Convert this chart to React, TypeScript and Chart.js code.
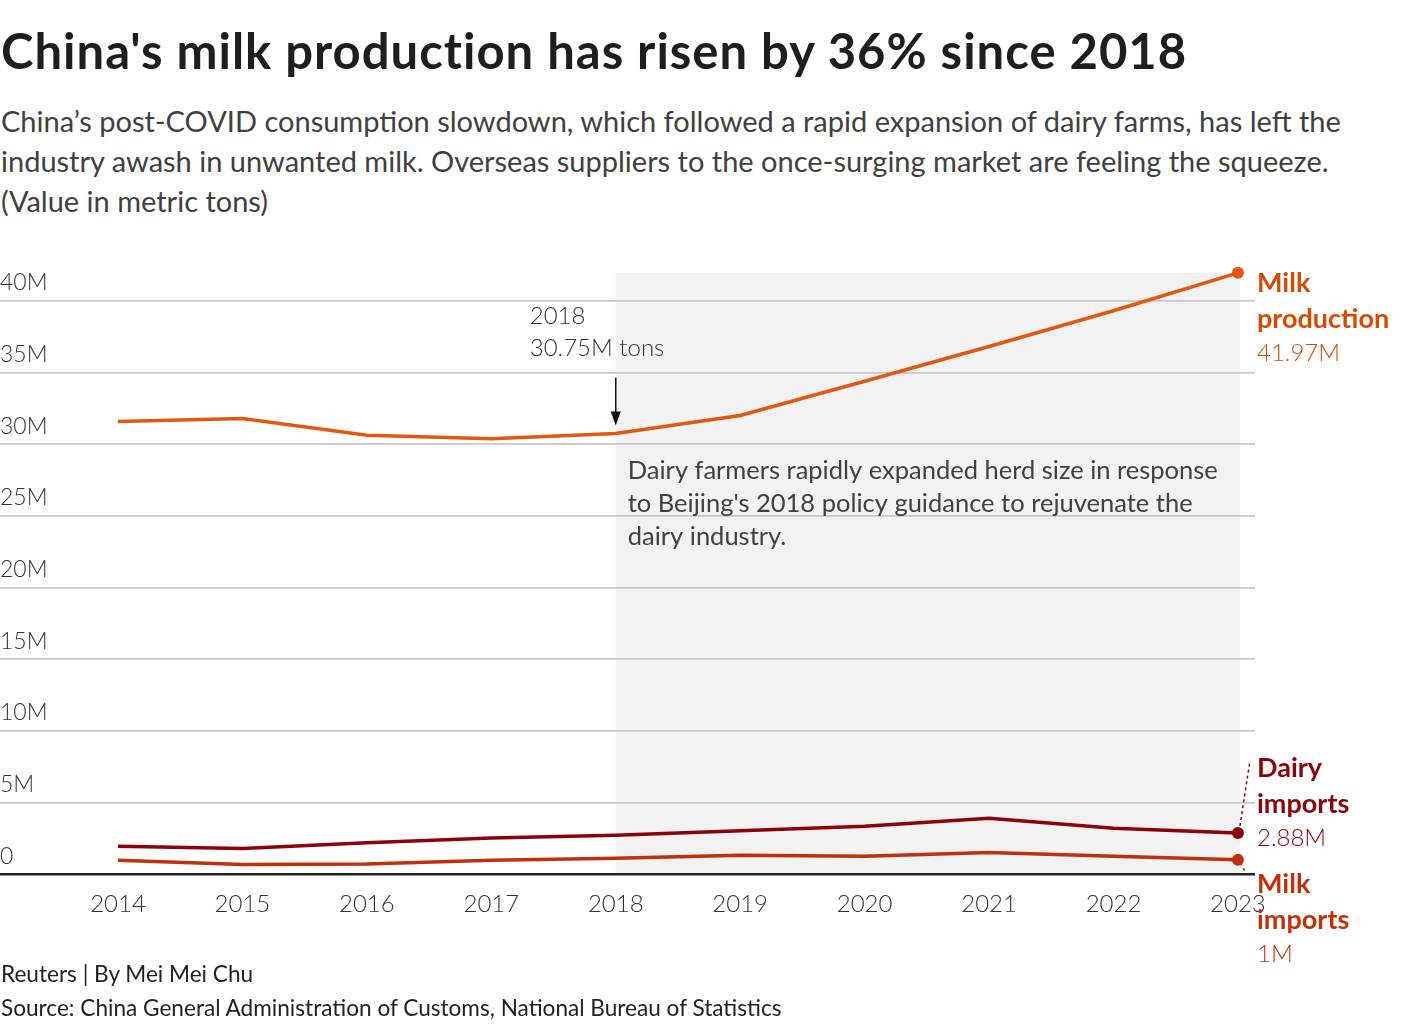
import React, { useEffect, useRef } from 'react';
import { Chart, registerables } from 'chart.js';

Chart.register(...registerables);

// ---- data (millions of metric tons) ----
const YEARS = [2014, 2015, 2016, 2017, 2018, 2019, 2020, 2021, 2022, 2023];
const MILK_PRODUCTION = [31.59, 31.8, 30.64, 30.39, 30.75, 32.01, 34.4, 36.83, 39.32, 41.97];
const DAIRY_IMPORTS = [1.95, 1.8, 2.2, 2.52, 2.72, 3.03, 3.35, 3.9, 3.2, 2.88];
const MILK_IMPORTS = [0.98, 0.68, 0.72, 0.98, 1.12, 1.32, 1.26, 1.52, 1.26, 1.0];
const Y_TICKS = [0, 5, 10, 15, 20, 25, 30, 35, 40];
const Y_TICK_LABELS = ['0', '5M', '10M', '15M', '20M', '25M', '30M', '35M', '40M'];
const SERIES_NAMES = [['Milk', 'production'], ['Dairy', 'imports'], ['Milk', 'imports']];
const SHADE_START = 2018;
const SHADE_END = 2023;
const HIGHLIGHT_YEAR = 2018;
const SHADE_NOTE = [
  'Dairy farmers rapidly expanded herd size in response',
  "to Beijing's 2018 policy guidance to rejuvenate the",
  'dairy industry.',
];

const FONT = 'Lato, "Source Sans Pro", "Noto Sans", sans-serif';
const C_PROD = '#e4570e';
const C_PROD_TXT = '#d84a04';
const C_DAIRY = '#8c0309';
const C_MILKIMP = '#c0300a';

const fmtM = (v: number) => `${Number(v.toFixed(2))}M`;

const overlayPlugin = {
  id: 'overlay',
  beforeDraw(chart: any) {
    const { ctx, scales } = chart;
    const x = scales.x, y = scales.y;
    const x0 = x.getPixelForValue(SHADE_START);
    const x1 = x.getPixelForValue(SHADE_END) + 2;
    const top = y.getPixelForValue(MILK_PRODUCTION[MILK_PRODUCTION.length - 1]);
    const bot = y.getPixelForValue(0);
    ctx.save();
    ctx.fillStyle = '#f2f2f2';
    ctx.fillRect(x0, top, x1 - x0, bot - top);
    ctx.restore();
  },
  afterDatasetsDraw(chart: any) {
    const { ctx, scales, chartArea } = chart;
    const x = scales.x, y = scales.y;
    const hi = YEARS.indexOf(HIGHLIGHT_YEAR);
    const hx = x.getPixelForValue(HIGHLIGHT_YEAR);
    const hy = y.getPixelForValue(MILK_PRODUCTION[hi]);
    ctx.save();
    // arrow annotation
    ctx.fillStyle = '#333';
    ctx.font = `300 24px ${FONT}`;
    ctx.textBaseline = 'middle';
    ctx.textAlign = 'left';
    ctx.fillText(String(HIGHLIGHT_YEAR), hx - 86, hy - 117);
    ctx.fillText(`${MILK_PRODUCTION[hi]}M tons`, hx - 86, hy - 85);
    ctx.strokeStyle = '#111';
    ctx.lineWidth = 1.5;
    ctx.beginPath();
    ctx.moveTo(hx, hy - 56);
    ctx.lineTo(hx, hy - 18);
    ctx.stroke();
    ctx.fillStyle = '#111';
    ctx.beginPath();
    ctx.moveTo(hx - 5, hy - 22);
    ctx.lineTo(hx + 5, hy - 22);
    ctx.lineTo(hx, hy - 8);
    ctx.closePath();
    ctx.fill();
    // shade note
    ctx.fillStyle = '#404040';
    ctx.font = `400 25.5px ${FONT}`;
    SHADE_NOTE.forEach((t, i) => ctx.fillText(t, hx + 12, hy + 37 + i * 33));

    // end labels
    const lx = chartArea.right + 2;
    const sets = [
      { data: MILK_PRODUCTION, color: C_PROD_TXT, dy: [10, 46, 80], conn: null as any },
      { data: DAIRY_IMPORTS, color: C_DAIRY, dy: [-65, -29, 5], conn: [-7, -72] },
      { data: MILK_IMPORTS, color: C_MILKIMP, dy: [24, 60, 94], conn: [3, 13] },
    ];
    sets.forEach((s, i) => {
      const meta = chart.getDatasetMeta(i);
      const pt = meta.data[meta.data.length - 1];
      if (s.conn) {
        ctx.save();
        ctx.strokeStyle = s.color;
        ctx.lineWidth = 1.5;
        ctx.setLineDash([3, 3]);
        ctx.beginPath();
        ctx.moveTo(pt.x + 2, pt.y + s.conn[0]);
        ctx.lineTo(pt.x + (s.conn[1] < 0 ? 12 : 8), pt.y + s.conn[1]);
        ctx.stroke();
        ctx.restore();
      }
      ctx.fillStyle = s.color;
      ctx.font = `700 27px ${FONT}`;
      ctx.fillText(SERIES_NAMES[i][0], lx, pt.y + s.dy[0]);
      ctx.fillText(SERIES_NAMES[i][1], lx, pt.y + s.dy[1]);
      ctx.font = `300 24px ${FONT}`;
      ctx.fillText(fmtM(s.data[s.data.length - 1]), lx, pt.y + s.dy[2]);
    });
    ctx.restore();
  },
};

function ChartCanvas() {
  const ref = useRef<HTMLCanvasElement | null>(null);
  useEffect(() => {
    if (!ref.current) return;
    const lastR = (n: number) => (c: any) => (c.dataIndex === YEARS.length - 1 ? n : 0);
    const mk = (data: number[], color: string, w: number) => ({
      data: YEARS.map((yr, i) => ({ x: yr, y: data[i] })),
      borderColor: color,
      backgroundColor: color,
      borderWidth: w,
      pointRadius: lastR(6),
      pointHoverRadius: lastR(6),
      pointBorderWidth: 0,
      tension: 0,
      clip: false as any,
    });
    const chart = new Chart(ref.current, {
      type: 'line',
      data: {
        datasets: [
          mk(MILK_PRODUCTION, C_PROD, 3.5),
          mk(DAIRY_IMPORTS, C_DAIRY, 3.5),
          mk(MILK_IMPORTS, C_MILKIMP, 3.5),
        ],
      },
      options: {
        animation: false,
        responsive: false,
        maintainAspectRatio: false,
        events: [],
        layout: { autoPadding: false, padding: { left: 0, right: 165, top: 32.4, bottom: 65 } },
        plugins: { legend: { display: false }, tooltip: { enabled: false } },
        scales: {
          x: {
            type: 'linear',
            min: 2013.052,
            max: 2023.137,
            afterBuildTicks: (s: any) => {
              s.ticks = YEARS.map((v) => ({ value: v }));
            },
            grid: { display: false, drawTicks: false },
            border: { display: false },
            ticks: {
              callback: (v: any) => String(v),
              font: { family: FONT, size: 24, weight: '300' as any },
              color: '#333',
              padding: 16,
              maxRotation: 0,
              autoSkip: false,
            },
          },
          y: {
            min: 0,
            max: 42,
            afterBuildTicks: (s: any) => {
              s.ticks = Y_TICKS.map((v) => ({ value: v }));
            },
            afterFit: (s: any) => {
              s.width = 0;
            },
            grid: {
              drawTicks: false,
              color: (c: any) => (c.tick && c.tick.value === 0 ? '#222' : '#c8c8c8'),
              lineWidth: (c: any) => (c.tick && c.tick.value === 0 ? 2.5 : 1.8),
            },
            border: { display: false },
            ticks: {
              mirror: true,
              padding: 0,
              labelOffset: -18,
              callback: (v: any) => Y_TICK_LABELS[Y_TICKS.indexOf(Number(v))] ?? '',
              font: { family: FONT, size: 23, weight: '300' as any },
              color: '#333',
            },
          },
        },
      },
      plugins: [overlayPlugin],
    });
    return () => chart.destroy();
  }, []);
  return (
    <canvas
      ref={ref}
      width={1420}
      height={760}
      style={{ position: 'absolute', left: 0, top: 240, width: 1420, height: 760 }}
    />
  );
}

export default function App() {
  useEffect(() => {
    document.body.style.margin = '0';
  }, []);
  return (
    <div style={{ position: 'relative', width: 1420, height: 1030, fontFamily: FONT, background: '#fff', overflow: 'hidden' }}>
      <div style={{ position: 'absolute', left: 1, top: 21, fontSize: 49, lineHeight: '58px', letterSpacing: '1px', fontWeight: 700, color: '#1e1e1e', whiteSpace: 'nowrap' }}>
        China's milk production has risen by 36% since 2018
      </div>
      <div style={{ position: 'absolute', left: 1, top: 101, fontSize: 29, lineHeight: '40px', fontWeight: 400, color: '#404040', whiteSpace: 'nowrap' }}>
        China’s post-COVID consumption slowdown, which followed a rapid expansion of dairy farms, has left the
        <br />
        industry awash in unwanted milk. Overseas suppliers to the once-surging market are feeling the squeeze.
        <br />
        (Value in metric tons)
      </div>
      <ChartCanvas />
      <div style={{ position: 'absolute', left: 1, top: 957, fontSize: 22.6, lineHeight: '34px', color: '#222', whiteSpace: 'nowrap' }}>
        Reuters | By Mei Mei Chu
        <br />
        Source: China General Administration of Customs, National Bureau of Statistics
      </div>
    </div>
  );
}
